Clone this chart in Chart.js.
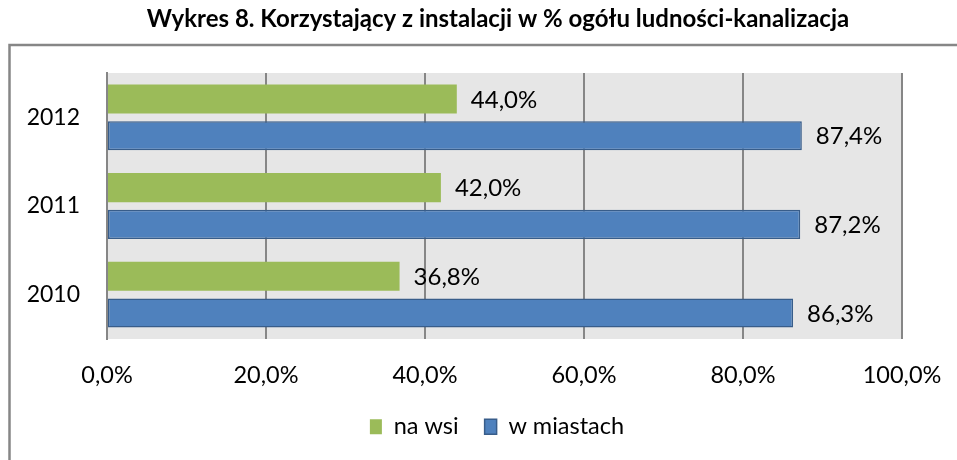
<!DOCTYPE html>
<html>
<head>
<meta charset="utf-8">
<script src="https://cdn.jsdelivr.net/npm/chart.js@4"></script>
<style>
  html, body { margin: 0; padding: 0; background: #fff; }
  #wrap { width: 957px; height: 460px; }
</style>
</head>
<body>
<div id="wrap"><canvas id="graficoKanalizacja" width="957" height="460"></canvas></div>
<script>
const lata = ['2012', '2011', '2010'];
const naWsi = [44.0, 42.0, 36.8];
const wMiastach = [87.4, 87.2, 86.3];
const tickiX = [0, 20, 40, 60, 80, 100];
const tytul = 'Wykres 8. Korzystający z instalacji w % ogółu ludności-kanalizacja';

const FONT = 'Lato, "Open Sans", sans-serif';
const fmt = v => v.toFixed(1).replace('.', ',') + '%';

// szare tlo obszaru wykresu, ramka i tytul
const tloPlugin = {
    id: 'tlo',
    afterLayout(chart) {
        // legenda wysrodkowana wzgledem calej ramki, nie obszaru wykresu
        chart.legend.left += 46;
        chart.legend.right += 46;
    },
    beforeDraw(chart) {
        const { ctx, chartArea: a } = chart;
        ctx.save();
        ctx.strokeStyle = '#868686';
        ctx.lineWidth = 2.5;
        ctx.strokeRect(9.5, 45, 1000, 500);
        ctx.fillStyle = '#e6e6e6';
        ctx.fillRect(a.left, a.top, a.right - a.left, a.bottom - a.top);
        ctx.font = 'bold 24px ' + FONT;
        ctx.fillStyle = '#000';
        ctx.textAlign = 'center';
        ctx.textBaseline = 'middle';
        ctx.fillText(tytul, 498, 19);
        ctx.restore();
    }
};

// etykiety wartosci za slupkami
const etykietyPlugin = {
    id: 'etykiety',
    afterDatasetsDraw(chart) {
        const { ctx } = chart;
        ctx.save();
        ctx.font = '24px ' + FONT;
        ctx.fillStyle = '#000';
        ctx.textAlign = 'left';
        ctx.textBaseline = 'middle';
        chart.data.datasets.forEach((ds, i) => {
            chart.getDatasetMeta(i).data.forEach((bar, j) => {
                ctx.fillText(fmt(ds.data[j]), bar.x + 14, bar.y + 1);
            });
        });
        ctx.restore();
    }
};

new Chart(document.getElementById('graficoKanalizacja'), {
    type: 'bar',
    data: {
        labels: lata,
        datasets: [{
            label: 'na wsi',
            data: naWsi,
            backgroundColor: '#9bbb59',
            borderColor: '#9bbb59',
            borderWidth: 0,
            categoryPercentage: 0.83,
            barPercentage: 0.79
        }, {
            label: 'w miastach',
            data: wMiastach,
            backgroundColor: '#4f81bd',
            borderColor: '#385d8a',
            borderWidth: 1.5,
            borderSkipped: false,
            categoryPercentage: 0.83,
            barPercentage: 0.79
        }]
    },
    options: {
        indexAxis: 'y',
        responsive: false,
        animation: false,
        layout: { padding: { left: 0, right: 55, top: 73, bottom: 11.5 } },
        plugins: {
            title: { display: false },
            legend: {
                position: 'bottom',
                labels: {
                    color: '#000',
                    font: { family: FONT, size: 23.5 },
                    boxWidth: 12,
                    boxHeight: 15,
                    padding: 26
                }
            },
            tooltip: { enabled: false }
        },
        scales: {
            x: {
                min: 0,
                max: 100,
                afterBuildTicks(scale) { scale.ticks = tickiX.map(v => ({ value: v })); },
                afterFit(scale) {
                    scale.height = 50;
                    scale.paddingLeft = 0;
                    scale.paddingRight = 0;
                },
                ticks: {
                    color: '#000',
                    font: { family: FONT, size: 23.5 },
                    padding: 22,
                    callback: v => fmt(v)
                },
                grid: { color: '#868686', lineWidth: 2, tickLength: 0, drawTicks: false },
                border: { display: false }
            },
            y: {
                afterFit(scale) {
                    scale.width = 107;
                    scale.paddingTop = 0;
                    scale.paddingBottom = 0;
                },
                ticks: {
                    color: '#000',
                    font: { family: FONT, size: 23 },
                    padding: 27
                },
                grid: { display: false, drawTicks: false },
                border: { display: true, color: '#868686', width: 2 }
            }
        }
    },
    plugins: [tloPlugin, etykietyPlugin]
});
</script>
</body>
</html>
